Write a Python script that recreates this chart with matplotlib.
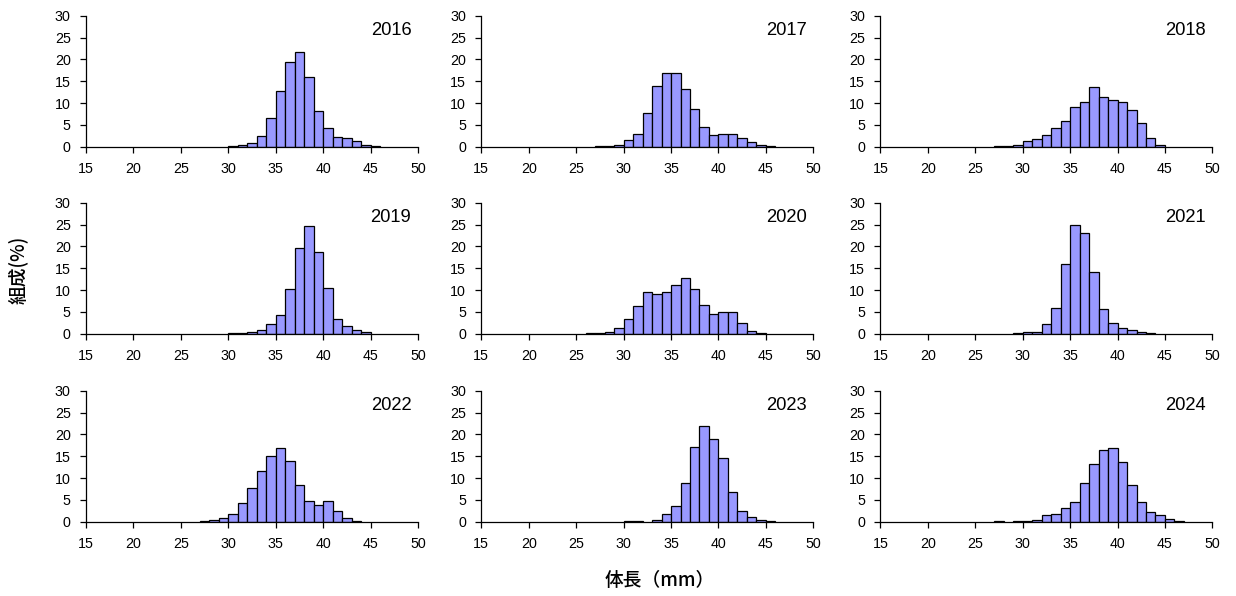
import matplotlib
matplotlib.use("Agg")
import matplotlib.pyplot as plt

plt.rcParams['font.family'] = ['Liberation Sans', 'Noto Sans CJK JP', 'DejaVu Sans']

# lower edge of each 1 mm length class
bin_lower = list(range(26, 47))

years = ["2016", "2017", "2018", "2019", "2020", "2021", "2022", "2023", "2024"]

comp_2016 = [0, 0, 0, 0, 0.2, 0.3, 0.85, 2.4, 6.6, 12.7, 19.4, 21.8, 15.9, 8.1, 4.2, 2.2, 2.1, 1.3, 0.5, 0.15, 0]
comp_2017 = [0, 0.1, 0.15, 0.5, 1.45, 3.0, 7.7, 13.9, 16.8, 16.9, 13.1, 8.7, 4.5, 2.6, 2.8, 2.8, 2.1, 1.1, 0.3, 0.1, 0]
comp_2018 = [0, 0.1, 0.25, 0.5, 1.2, 1.7, 2.6, 4.2, 5.9, 9.1, 10.3, 13.7, 11.4, 10.7, 10.3, 8.4, 5.5, 2.1, 0.5, 0, 0]
comp_2019 = [0, 0, 0, 0, 0.1, 0.15, 0.4, 0.8, 2.2, 4.2, 10.2, 19.6, 24.6, 18.8, 10.5, 3.3, 1.75, 0.9, 0.4, 0, 0]
comp_2020 = [0.1, 0.15, 0.5, 1.2, 3.3, 6.3, 9.5, 9.1, 9.6, 11.1, 12.7, 10.2, 6.6, 4.5, 4.9, 4.9, 2.4, 0.7, 0.15, 0, 0]
comp_2021 = [0, 0, 0, 0.15, 0.4, 0.5, 2.2, 6.0, 15.9, 25.0, 23.0, 14.2, 5.7, 2.4, 1.2, 0.8, 0.4, 0.15, 0, 0, 0]
comp_2022 = [0, 0.1, 0.3, 0.9, 1.8, 4.35, 7.7, 11.7, 15.0, 16.9, 13.8, 8.3, 4.65, 3.9, 4.65, 2.5, 0.85, 0.1, 0, 0, 0]
comp_2023 = [0, 0, 0, 0, 0.1, 0.1, 0, 0.3, 1.7, 3.7, 8.9, 17.0, 22.0, 18.9, 14.6, 6.9, 2.5, 1.0, 0.3, 0.1, 0]
comp_2024 = [0, 0.1, 0, 0.1, 0.25, 0.5, 1.45, 1.7, 3.1, 4.5, 8.9, 13.1, 16.5, 16.8, 13.7, 8.3, 4.5, 2.2, 1.45, 0.6, 0.1]

series = [comp_2016, comp_2017, comp_2018, comp_2019, comp_2020,
          comp_2021, comp_2022, comp_2023, comp_2024]

x_ticks = [15, 20, 25, 30, 35, 40, 45, 50]
y_ticks = [0, 5, 10, 15, 20, 25, 30]

W, H = 1236, 596
fig = plt.figure(figsize=(W / 100, H / 100), dpi=100)

col_left = [86, 481.3, 880.4]
col_width = 332
row_base = [146.7, 333.7, 521.7]
row_height = 131

for i, (year, vals) in enumerate(zip(years, series)):
    r, c = divmod(i, 3)
    ax = fig.add_axes([col_left[c] / W, 1 - row_base[r] / H,
                       col_width / W, row_height / H])
    xs = [b for b, v in zip(bin_lower, vals) if v > 0]
    hs = [v for v in vals if v > 0]
    ax.bar(xs, hs, width=1.0, align='edge', color='#9999FF',
           edgecolor='black', linewidth=0.9, zorder=2)
    ax.set_xlim(15, 50)
    ax.set_ylim(0, 30)
    ax.set_xticks(x_ticks)
    ax.set_yticks(y_ticks)
    for s in ('top', 'right'):
        ax.spines[s].set_visible(False)
    for s in ('left', 'bottom'):
        ax.spines[s].set_linewidth(0.9)
        ax.spines[s].set_zorder(3)
    ax.tick_params(axis='x', direction='out', length=4, width=0.9,
                   pad=7, labelsize=10.3)
    ax.tick_params(axis='y', direction='out', length=4, width=0.9,
                   pad=7, labelsize=10.3)
    # year label, top edge near y=21.7 px of a 131 px tall panel row
    ax.text(0.98, 0.95, year, transform=ax.transAxes, ha='right',
            va='top', fontsize=13.2)

fig.text(18 / W, 1 - 270 / H, '組成(%)', rotation=90, ha='center',
         va='center', fontsize=13.5, family=['Noto Sans CJK JP'],
         fontweight='medium')
fig.text(660 / W, 1 - 581 / H, '体長（mm）', ha='center', va='center',
         fontsize=13.5, family=['Noto Sans CJK JP'], fontweight='medium')

fig.savefig('out.png', dpi=100)
